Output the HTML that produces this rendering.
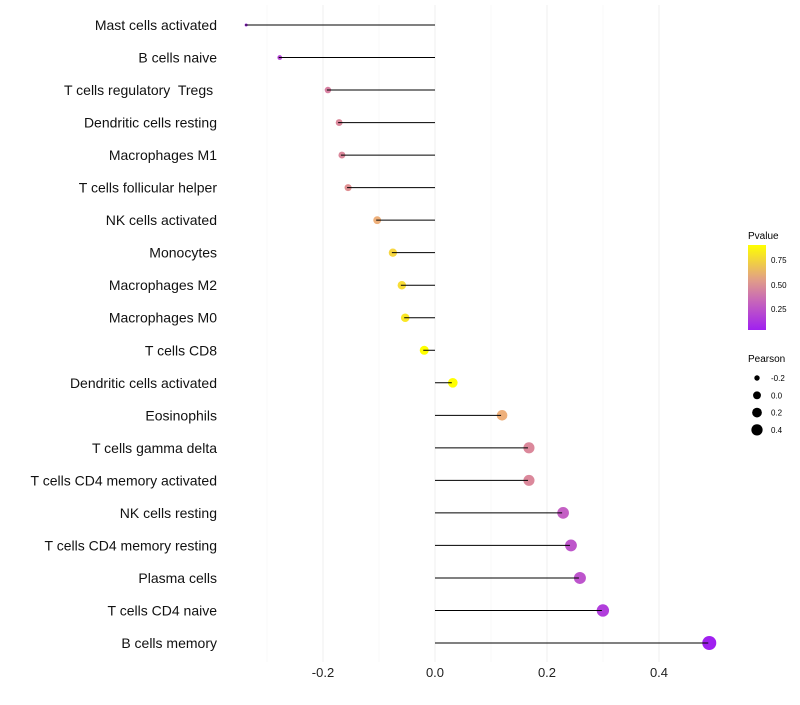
<!DOCTYPE html>
<html><head><meta charset="utf-8"><style>
body{margin:0;background:#fff;font-family:"Liberation Sans",sans-serif}
svg text{font-family:"Liberation Sans",sans-serif;white-space:pre}
</style></head><body>
<svg id="chart" width="800" height="700" xmlns="http://www.w3.org/2000/svg">
<g id="grid"></g>
<g id="marks"></g>
<g id="stems"></g>
<g id="ylab"></g>
<g id="xlab"></g>
<g id="legend">
<defs><linearGradient id="pg" x1="0" y1="1" x2="0" y2="0">
<stop offset="0" stop-color="#A020F0"/><stop offset="0.35" stop-color="#C868B8"/><stop offset="0.6" stop-color="#E2A085"/><stop offset="1" stop-color="#FFFF00"/></linearGradient></defs>
<text x="748" y="239" font-size="10">Pvalue</text>
<rect x="748" y="245" width="18" height="85" fill="url(#pg)"/>
<text x="771" y="263" font-size="8">0.75</text>
<text x="771" y="288" font-size="8">0.50</text>
<text x="771" y="312" font-size="8">0.25</text>
<text x="748" y="362" font-size="10">Pearson</text>
</g>
</svg>
<script>
const categories=["Mast cells activated","B cells naive","T cells regulatory  Tregs ","Dendritic cells resting","Macrophages M1","T cells follicular helper","NK cells activated","Monocytes","Macrophages M2","Macrophages M0","T cells CD8","Dendritic cells activated","Eosinophils","T cells gamma delta","T cells CD4 memory activated","NK cells resting","T cells CD4 memory resting","Plasma cells","T cells CD4 naive","B cells memory"];
const pearson=[-0.339,-0.279,-0.193,-0.173,-0.168,-0.157,-0.105,-0.077,-0.061,-0.055,-0.021,0.030,0.118,0.166,0.166,0.227,0.241,0.257,0.298,0.488];
const pvalue=[0.08,0.2,0.45,0.48,0.48,0.52,0.68,0.8,0.82,0.85,0.95,0.92,0.68,0.48,0.48,0.3,0.26,0.25,0.16,0.02];
const xTicks=[-0.2,0.0,0.2,0.4];
const sizeLegend=[-0.2,0.0,0.2,0.4];
const NS="http://www.w3.org/2000/svg";
const x=v=>435+v*560;
const y=i=>25+i*(618/19);
const rad=v=>Math.sqrt(Math.max(1,2.25+(v+0.339)*56.5));
function col(p){
 const stops=[[0.04,[160,32,240]],[0.3,[196,96,196]],[0.5,[222,140,150]],[0.7,[240,180,120]],[0.92,[255,255,0]]];
 if(p<=stops[0][0])return 'rgb('+stops[0][1]+')';
 for(let k=1;k<stops.length;k++){if(p<=stops[k][0]){const t=(p-stops[k-1][0])/(stops[k][0]-stops[k-1][0]);const a=stops[k-1][1],b=stops[k][1];return 'rgb('+a.map((c,j)=>Math.round(c+(b[j]-c)*t))+')';}}
 return 'rgb(255,255,0)';
}
function mk(tag,attrs,parent){const e=document.createElementNS(NS,tag);for(const k in attrs)e.setAttribute(k,attrs[k]);parent.appendChild(e);return e;}
const grid=document.getElementById('grid'),marks=document.getElementById('marks'),stems=document.getElementById('stems'),ylab=document.getElementById('ylab'),xlab=document.getElementById('xlab'),legend=document.getElementById('legend');
[-0.3,-0.1,0.1,0.3].forEach(v=>{const l=mk('line',{x1:x(v),x2:x(v),y1:5,y2:662,stroke:'#f6f6f6','stroke-width':0.6},grid);

});
xTicks.forEach(v=>{const l=mk('line',{x1:x(v),x2:x(v),y1:5,y2:662,stroke:'#efefef','stroke-width':1},grid);


const t=mk('text',{x:x(v),y:677,'font-size':13,'text-anchor':'middle',fill:'#222'},xlab);t.textContent=v.toFixed(1);

});
categories.forEach((c,i)=>{
 const t=mk('text',{x:217,y:y(i)+5,'font-size':14,'text-anchor':'end',fill:'#111'},ylab);t.textContent=c;
 
 
 const d=mk('circle',{cx:x(pearson[i])+1,cy:y(i),r:rad(pearson[i]),fill:col(pvalue[i])},marks);
 
 
 const l=mk('line',{x1:x(0),x2:x(pearson[i]),y1:y(i),y2:y(i),stroke:'#000','stroke-width':1},stems);
 
 
});
sizeLegend.forEach((v,k)=>{const yy=378+k*17.3;
 const d=mk('circle',{cx:757,cy:yy,r:rad(v)*0.85,fill:'#000'},legend);
 
 
 const t=mk('text',{x:771,y:yy+3,'font-size':8},legend);t.textContent=v.toFixed(1);
 
 });
</script>
</body></html>
